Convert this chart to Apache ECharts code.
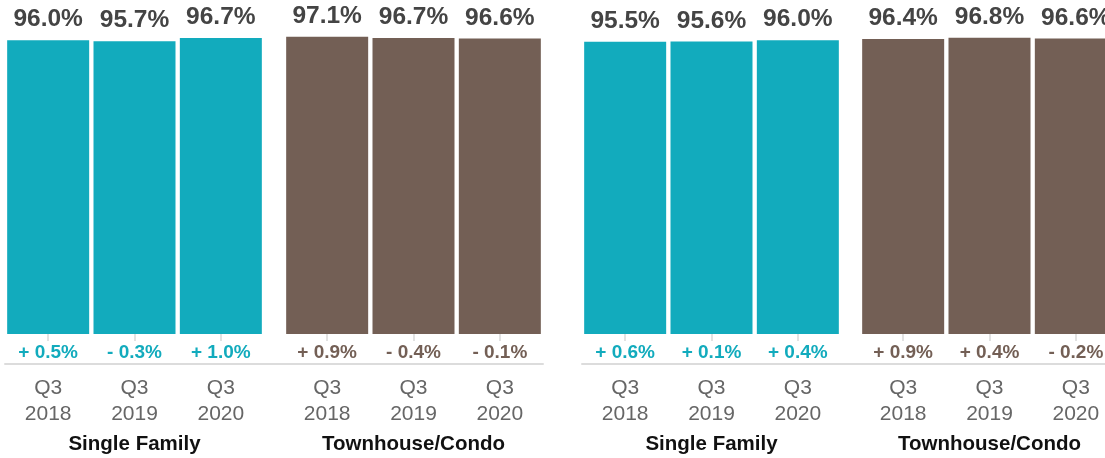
<!DOCTYPE html>
<html>
<head>
<meta charset="utf-8">
<script src="https://cdn.jsdelivr.net/npm/echarts@6/dist/echarts.min.js"></script>
<style>
  html, body { margin: 0; padding: 0; background: #fff; }
  #chart { width: 1105px; height: 458px; }
</style>
</head>
<body>
<div id="chart"></div>
<script>
// ---- data ----
const quarters = ['Q3 2018', 'Q3 2019', 'Q3 2020'];
const groupNames = ['Single Family', 'Townhouse/Condo'];

const leftSingleFamily = [96.0, 95.7, 96.7];
const leftSingleFamilyChange = [0.5, -0.3, 1.0];
const leftTownhouse = [97.1, 96.7, 96.6];
const leftTownhouseChange = [0.9, -0.4, -0.1];

const rightSingleFamily = [95.5, 95.6, 96.0];
const rightSingleFamilyChange = [0.6, 0.1, 0.4];
const rightTownhouse = [96.4, 96.8, 96.6];
const rightTownhouseChange = [0.9, 0.4, -0.2];

// ---- styling ----
const TEAL = '#12abbd';
const BROWN = '#735f55';
const FONT = '"Liberation Sans", Arial, Helvetica, sans-serif';

const blocks = [
  { values: leftSingleFamily, change: leftSingleFamilyChange, name: groupNames[0], color: TEAL, left: 5 },
  { values: leftTownhouse, change: leftTownhouseChange, name: groupNames[1], color: BROWN, left: 284 },
  { values: rightSingleFamily, change: rightSingleFamilyChange, name: groupNames[0], color: TEAL, left: 582 },
  { values: rightTownhouse, change: rightTownhouseChange, name: groupNames[1], color: BROWN, left: 860 }
];

const fmtVal = v => v.toFixed(1) + '%';
const fmtChg = v => (v >= 0 ? '+ ' : '- ') + Math.abs(v).toFixed(1) + '%';

const grid = [], xAxis = [], yAxis = [], series = [];

blocks.forEach((b, i) => {
  grid.push({ left: b.left, width: 259, top: 28, bottom: 124, outerBoundsMode: 'none', containLabel: false });
  xAxis.push({
    type: 'category',
    gridIndex: i,
    data: quarters,
    offset: 30,
    axisLine: { show: false },
    axisTick: { show: true, alignWithLabel: true, length: 7, lineStyle: { color: '#d9d9d9', width: 1.5 } },
    axisLabel: {
      color: '#666', fontSize: 21, lineHeight: 26, fontFamily: FONT, margin: 11,
      formatter: s => s.replace(' ', '\n')
    },
    name: b.name,
    nameLocation: 'middle',
    nameGap: 70,
    nameTextStyle: { color: '#111', fontSize: 20.5, fontWeight: 'bold', fontFamily: FONT }
  });
  yAxis.push({ type: 'value', gridIndex: i, min: 0, max: 100, show: false });
  series.push({
    type: 'bar',
    xAxisIndex: i, yAxisIndex: i,
    data: b.values,
    barWidth: 82,
    silent: true,
    itemStyle: { color: b.color },
    label: {
      show: true, position: 'top', distance: 8,
      color: '#444', fontSize: 24.5, fontWeight: 'bold', fontFamily: FONT,
      formatter: p => fmtVal(p.value)
    }
  });
  series.push({
    type: 'bar',
    xAxisIndex: i, yAxisIndex: i,
    data: b.values,
    barWidth: 82,
    barGap: '-100%',
    silent: true,
    itemStyle: { color: 'rgba(0,0,0,0)' },
    label: {
      show: true, position: 'bottom', distance: 9,
      color: b.color, fontSize: 19, fontWeight: 'bold', fontFamily: FONT,
      formatter: p => fmtChg(b.change[p.dataIndex])
    }
  });
});

// continuous baseline for each panel
[{ left: 5, width: 538 }, { left: 582, width: 540 }].forEach((g, k) => {
  const gi = grid.length;
  grid.push({ left: g.left, width: g.width, top: 300, bottom: 94, outerBoundsMode: 'none', containLabel: false });
  xAxis.push({
    type: 'value', gridIndex: gi, min: 0, max: 1,
    axisLine: { show: true, lineStyle: { color: '#dcdcdc', width: 2 } },
    axisTick: { show: false }, axisLabel: { show: false }, splitLine: { show: false }
  });
  yAxis.push({ type: 'value', gridIndex: gi, min: 0, max: 1, show: false });
});

const chart = echarts.init(document.getElementById('chart'), null, { renderer: 'canvas' });
chart.setOption({
  animation: false,
  backgroundColor: '#fff',
  grid, xAxis, yAxis, series
});
</script>
</body>
</html>
